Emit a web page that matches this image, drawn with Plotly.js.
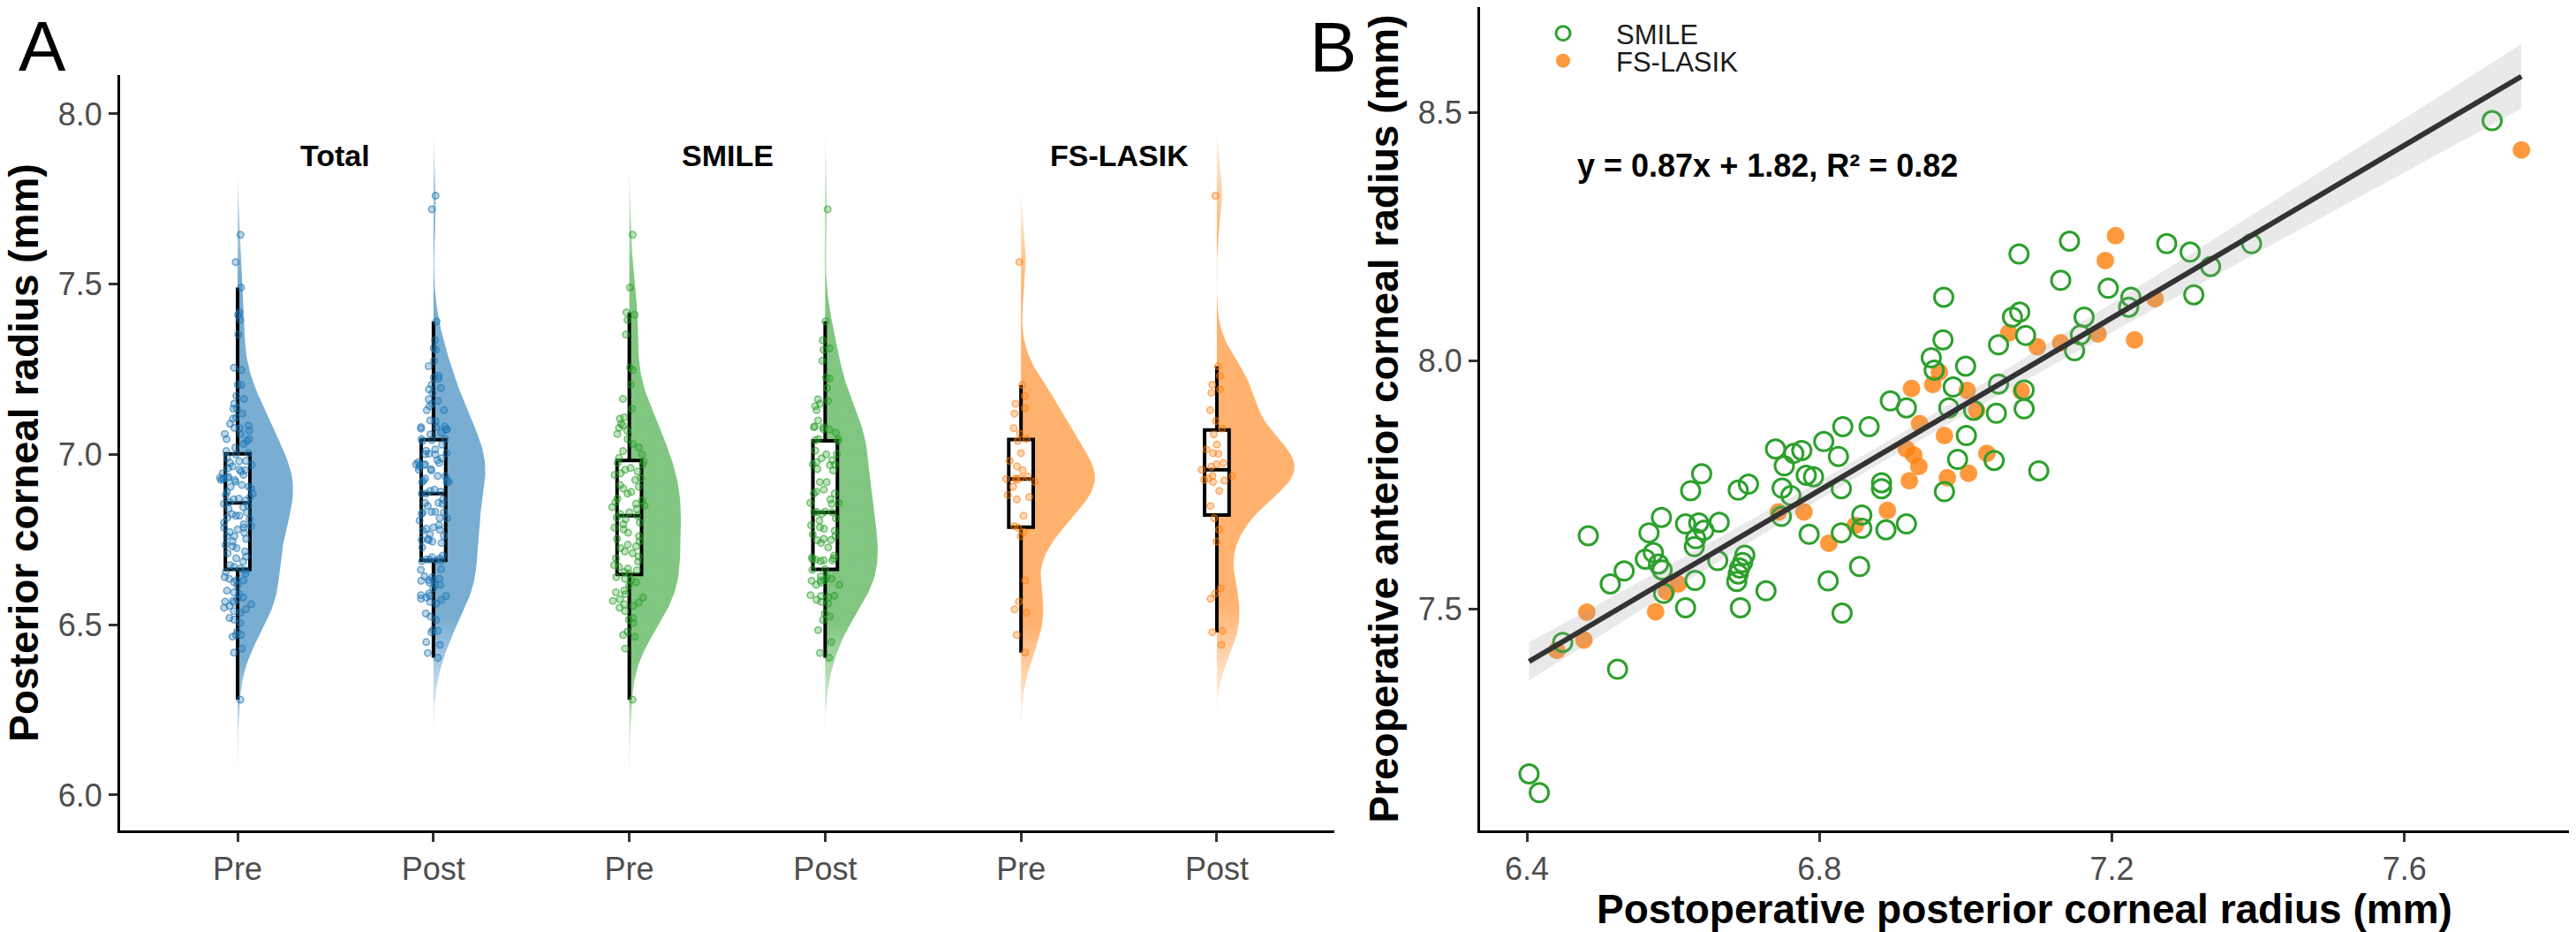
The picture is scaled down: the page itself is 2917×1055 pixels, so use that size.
<!DOCTYPE html>
<html><head><meta charset="utf-8">
<script src="https://cdn.plot.ly/plotly-3.0.1.min.js"></script>
<style>html,body{margin:0;padding:0;background:#fff}#chart{width:2917px;height:1055px}</style>
</head><body><div id="chart"></div>
<script>
// ---------- DATA ----------
const categories = ['Pre', 'Post', 'Pre', 'Post', 'Pre', 'Post'];
const facetLabels = ['Total', 'SMILE', 'FS-LASIK'];
const groupNames = ['SMILE', 'FS-LASIK'];

// Panel A: preoperative posterior corneal radius (mm)
const smilePrePosterior = [
  7.645, 7.49, 7.417, 7.41, 7.395, 7.352, 7.255, 7.248, 7.205, 7.163, 7.134, 7.109,
  7.105, 7.09, 7.085, 7.078, 7.07, 7.06, 7.045, 7.031, 7.02, 7.01, 7.0, 6.99,
  6.98, 6.975, 6.97, 6.96, 6.955, 6.95, 6.945, 6.94, 6.93, 6.925, 6.91, 6.905,
  6.9, 6.89, 6.885, 6.87, 6.865, 6.86, 6.855, 6.85, 6.845, 6.84, 6.83, 6.825,
  6.82,
  6.815, 6.81, 6.80, 6.795, 6.785, 6.78, 6.77, 6.76, 6.752, 6.745, 6.735, 6.73,
  6.725, 6.715, 6.71, 6.70, 6.695, 6.685, 6.675, 6.67, 6.665, 6.66, 6.655, 6.65,
  6.64, 6.635, 6.63, 6.625, 6.615, 6.60, 6.595, 6.59, 6.58, 6.575, 6.57, 6.565,
  6.56, 6.555, 6.55, 6.54, 6.52, 6.515, 6.505, 6.48, 6.47, 6.465, 6.43, 6.28
];
const fsPrePosterior = [
  7.565, 7.204, 7.172, 7.149, 7.136, 7.120, 7.077, 7.060, 7.045, 7.04, 7.004, 6.981,
  6.965, 6.954, 6.935, 6.931, 6.930, 6.928, 6.925, 6.92, 6.905, 6.881, 6.875, 6.868,
  6.82, 6.79, 6.785, 6.772, 6.76, 6.63, 6.568, 6.545, 6.535, 6.47, 6.418
];

// Panel B (and Post in panel A): postoperative posterior radius vs preoperative anterior radius
const smilePostPosterior = [
  7.720, 7.391, 7.335, 7.307, 7.275, 7.312, 7.226, 7.223, 7.142, 7.130, 7.195, 7.157, 7.149, 7.162, 7.100,
  7.073, 7.064, 7.074, 7.082, 7.045, 7.000, 7.045, 7.080, 7.080, 7.042, 7.011, 7.001, 7.039,
  6.970, 6.969, 6.953, 6.957, 6.983, 6.977, 6.897, 6.919, 6.989, 6.971, 6.919, 6.891,
  6.885, 6.885, 6.830, 6.826, 6.832, 6.868, 6.806, 6.858, 6.858, 6.830, 6.855, 6.812, 6.831,
  6.776, 6.782, 6.792, 6.740, 6.765, 6.752, 6.749, 6.761, 6.786, 6.748, 6.727, 6.703, 6.689,
  6.639, 6.624, 6.617, 6.635, 6.642, 6.663, 6.631, 6.629, 6.630, 6.661, 6.687, 6.689, 6.691, 6.695, 6.698, 6.692, 6.617,
  6.584, 6.567, 6.562, 6.573, 6.580, 6.585, 6.587, 6.533, 6.514, 6.484, 6.524, 6.449, 6.403, 6.417
];
const smilePreAnterior = [
  8.484, 8.236, 8.190, 8.219, 8.236, 8.133, 8.128, 8.108, 8.241, 8.162, 8.146, 8.052, 8.020, 8.088, 7.778,
  8.215, 8.088, 8.098, 8.051, 8.032, 7.989, 7.953, 7.941, 7.903, 7.894, 7.900, 7.849, 7.799,
  8.128, 8.042, 8.006, 7.981, 7.947, 7.905, 7.919, 7.905, 7.801, 7.736, 7.671, 7.659,
  7.754, 7.742, 7.742, 7.807, 7.867, 7.867, 7.837, 7.689, 7.662, 7.653, 7.585, 7.556, 7.491,
  7.819, 7.769, 7.766, 7.822, 7.813, 7.788, 7.743, 7.728, 7.650, 7.686, 7.536, 7.751, 7.739,
  7.772, 7.738, 7.671, 7.673, 7.658, 7.674, 7.641, 7.625, 7.557, 7.597, 7.555, 7.570, 7.582, 7.593, 7.608, 7.502, 7.502,
  7.684, 7.653, 7.600, 7.613, 7.590, 7.578, 7.531, 7.576, 7.550, 7.647, 7.378, 7.432, 7.167, 7.129
];
const fsPostPosterior = [
  7.760, 7.205, 7.191, 7.259, 7.231, 7.181, 7.130, 7.098, 7.059, 7.076, 6.964, 6.955,
  7.002, 6.926, 7.015, 6.937, 6.971, 6.919, 6.929, 6.936, 7.029, 6.923, 6.975, 7.004,
  6.893, 6.849, 6.813, 6.779, 6.744, 6.607, 6.591, 6.576, 6.482, 6.478, 6.441
];
const fsPreAnterior = [
  8.425, 8.252, 8.202, 8.125, 8.042, 8.054, 8.036, 8.028, 8.056, 7.939, 7.977, 7.952,
  7.940, 7.944, 7.900, 7.873, 7.849, 7.822, 7.810, 7.787, 7.813, 7.758, 7.764, 7.773,
  7.698, 7.668, 7.632, 7.695, 7.695, 7.550, 7.535, 7.494, 7.493, 7.437, 7.416
];
const equationText = 'y = 0.87x + 1.82, R² = 0.82';

// ---------- DERIVED ----------
const totalPre = smilePrePosterior.concat(fsPrePosterior);
const totalPost = smilePostPosterior.concat(fsPostPosterior);
const groupsA = [totalPre, totalPost, smilePrePosterior, smilePostPosterior, fsPrePosterior, fsPostPosterior];
const rgbA = ['31,119,180', '31,119,180', '44,160,44', '44,160,44', '255,127,14', '255,127,14'];

function quant(sorted, p) {
  const idx = (sorted.length - 1) * p, lo = Math.floor(idx), hi = Math.ceil(idx);
  return sorted[lo] + (sorted[hi] - sorted[lo]) * (idx - lo);
}
function bwNrd0(v) {
  const n = v.length, m = v.reduce((a, b) => a + b, 0) / n;
  const sd = Math.sqrt(v.reduce((a, b) => a + (b - m) * (b - m), 0) / (n - 1));
  const s = [...v].sort((a, b) => a - b);
  const iqr = quant(s, 0.75) - quant(s, 0.25);
  return 0.9 * Math.min(sd, iqr / 1.34) * Math.pow(n, -0.2);
}
function kde(v, nGrid) {
  const bw = bwNrd0(v);
  const mn = Math.min(...v) - 3 * bw, mx = Math.max(...v) + 3 * bw;
  const ys = [], ds = [];
  for (let i = 0; i < nGrid; i++) {
    const y = mn + (mx - mn) * i / (nGrid - 1);
    let d = 0;
    for (const x of v) { const z = (y - x) / bw; d += Math.exp(-0.5 * z * z); }
    ys.push(y); ds.push(d / (v.length * bw * Math.sqrt(2 * Math.PI)));
  }
  return { ys, ds };
}

const FONT = 'Liberation Sans, Arial, Helvetica, sans-serif';
const widthScale = 0.18;
const traces = [];

// half violins (base subplot x / y)
groupsA.forEach((vals, i) => {
  const pos = i + 1, c = rgbA[i];
  const k = kde(vals, 220);
  const xs = k.ds.map(d => pos + widthScale * d);
  const ys = k.ys.slice();
  xs.push(pos, pos); ys.push(k.ys[k.ys.length - 1], k.ys[0]);
  traces.push({
    type: 'scatter', mode: 'lines', x: xs, y: ys, xaxis: 'x', yaxis: 'y',
    fill: 'toself', fillcolor: `rgba(${c},0.6)`, line: { width: 0, color: `rgba(${c},0)` },
    fillgradient: { type: 'vertical', colorscale: [[0, `rgba(${c},0)`], [0.2, `rgba(${c},0.6)`], [0.8, `rgba(${c},0.6)`], [1, `rgba(${c},0)`]] },
    hoverinfo: 'skip', showlegend: false
  });
});
// boxes (overlay y3 so they sit above violins)
groupsA.forEach((vals, i) => {
  traces.push({
    type: 'box', y: vals, x0: i + 1, xaxis: 'x', yaxis: 'y3', width: 0.125,
    fillcolor: '#ffffff', line: { color: '#000000', width: 4 }, whiskerwidth: 0,
    boxpoints: 'outliers', marker: { opacity: 0 }, hoverinfo: 'skip', showlegend: false
  });
});
// jittered raw points
groupsA.forEach((vals, i) => {
  const c = rgbA[i];
  traces.push({
    type: 'box', y: vals, x0: i + 1, xaxis: 'x', yaxis: 'y3', width: 0.18,
    fillcolor: 'rgba(0,0,0,0)', line: { color: 'rgba(0,0,0,0)', width: 0 },
    boxpoints: 'all', jitter: 1, pointpos: 0,
    marker: { size: 7.5, color: `rgba(${c},0.3)`, line: { color: `rgba(${c},0.6)`, width: 1.5 } },
    hoverinfo: 'skip', showlegend: false
  });
});

// Panel B scatter
traces.push({
  type: 'scatter', mode: 'markers', name: groupNames[1], legend: 'legend2',
  x: fsPostPosterior, y: fsPreAnterior, xaxis: 'x2', yaxis: 'y2',
  marker: { symbol: 'circle', size: 20, color: 'rgba(255,127,14,0.8)', line: { width: 0 } }
});
traces.push({
  type: 'scatter', mode: 'markers', name: groupNames[0], legend: 'legend',
  x: smilePostPosterior, y: smilePreAnterior, xaxis: 'x2', yaxis: 'y2',
  marker: { symbol: 'circle-open', size: 21, color: '#2ca02c', line: { width: 3, color: '#2ca02c' } }
});

// regression + 95% CI
const allX = totalPost, allY = smilePreAnterior.concat(fsPreAnterior);
const n = allX.length;
const mx = allX.reduce((a, b) => a + b, 0) / n, my = allY.reduce((a, b) => a + b, 0) / n;
let sxx = 0, sxy = 0;
for (let i = 0; i < n; i++) { sxx += (allX[i] - mx) ** 2; sxy += (allX[i] - mx) * (allY[i] - my); }
const slope = sxy / sxx, icpt = my - slope * mx;
let sse = 0;
for (let i = 0; i < n; i++) sse += (allY[i] - icpt - slope * allX[i]) ** 2;
const sres = Math.sqrt(sse / (n - 2)), tcrit = 1.978;
const xmin = Math.min(...allX), xmax = Math.max(...allX);
const gx = [], gy = [], up = [], lo = [];
for (let i = 0; i < 80; i++) {
  const x = xmin + (xmax - xmin) * i / 79;
  const yh = icpt + slope * x;
  const se = sres * Math.sqrt(1 / n + (x - mx) ** 2 / sxx);
  gx.push(x); gy.push(yh); up.push(yh + tcrit * se); lo.push(yh - tcrit * se);
}
traces.push({
  type: 'scatter', mode: 'lines', x: gx.concat(gx.slice().reverse()), y: up.concat(lo.slice().reverse()),
  xaxis: 'x2', yaxis: 'y2', fill: 'toself', fillcolor: 'rgba(153,153,153,0.22)',
  line: { width: 0, color: 'rgba(0,0,0,0)' }, hoverinfo: 'skip', showlegend: false
});
traces.push({
  type: 'scatter', mode: 'lines', x: gx, y: gy, xaxis: 'x2', yaxis: 'y2',
  line: { color: '#333333', width: 6 }, hoverinfo: 'skip', showlegend: false
});

// ---------- LAYOUT ----------
const W = 2917, H = 1055;
const tickFont = { family: FONT, size: 36, color: '#4d4d4d' };
const titleFont = { family: FONT, size: 46, color: '#000000', weight: 'bold' };
const axisCommon = {
  showline: true, linecolor: '#000000', linewidth: 3, ticks: 'outside', ticklen: 10,
  tickwidth: 3, tickcolor: '#333333', tickfont: tickFont, showgrid: false, zeroline: false
};
const yRangeA = [5.896, 8.114];
const legendCommon = {
  xanchor: 'left', yanchor: 'middle', bgcolor: 'rgba(0,0,0,0)', borderwidth: 0,
  font: { family: FONT, size: 31, color: '#1a1a1a' }, itemwidth: 110
};
const layout = {
  width: W, height: H, margin: { l: 0, r: 0, t: 0, b: 0 },
  paper_bgcolor: '#ffffff', plot_bgcolor: 'rgba(0,0,0,0)',
  font: { family: FONT }, boxmode: 'overlay', showlegend: true,
  xaxis: Object.assign({}, axisCommon, {
    domain: [136 / W, 1511 / W], range: [0.4, 6.6], anchor: 'y',
    tickmode: 'array', tickvals: [1, 2, 3, 4, 5, 6], ticktext: categories
  }),
  yaxis: Object.assign({}, axisCommon, {
    domain: [1 - 940 / H, 1 - 85 / H], range: yRangeA, anchor: 'x',
    tickmode: 'array', tickvals: [6.0, 6.5, 7.0, 7.5, 8.0], tickformat: '.1f',
    title: { text: 'Posterior corneal radius (mm)', font: titleFont, standoff: 8 }
  }),
  yaxis3: { overlaying: 'y', anchor: 'x', range: yRangeA, visible: false, showgrid: false, zeroline: false },
  xaxis2: Object.assign({}, axisCommon, {
    domain: [1676 / W, 2909 / W], range: [6.336, 7.825], anchor: 'y2',
    tickmode: 'array', tickvals: [6.4, 6.8, 7.2, 7.6], tickformat: '.1f',
    title: { text: 'Postoperative posterior corneal radius (mm)', font: titleFont, standoff: 10 }
  }),
  yaxis2: Object.assign({}, axisCommon, {
    domain: [1 - 940 / H, 1 - 8 / H], range: [7.053, 8.713], anchor: 'x2',
    tickmode: 'array', tickvals: [7.5, 8.0, 8.5], tickformat: '.1f',
    title: { text: 'Preoperative anterior corneal radius (mm)', font: titleFont, standoff: 8 }
  }),
  legend: Object.assign({}, legendCommon, { x: 1710 / W, y: 1 - 38 / H }),
  legend2: Object.assign({}, legendCommon, { x: 1710 / W, y: 1 - 69 / H }),
  annotations: [
    { text: 'A', xref: 'paper', yref: 'paper', x: 48 / W, y: 1 - 53 / H, xanchor: 'center', yanchor: 'middle', showarrow: false, font: { family: FONT, size: 80, color: '#000' } },
    { text: 'B', xref: 'paper', yref: 'paper', x: 1509 / W, y: 1 - 54 / H, xanchor: 'center', yanchor: 'middle', showarrow: false, font: { family: FONT, size: 80, color: '#000' } },
    ...facetLabels.map((t, i) => ({
      text: t, xref: 'x', yref: 'y', x: 1.5 + 2 * i, y: 7.878, xanchor: 'center', yanchor: 'middle',
      showarrow: false, font: { family: FONT, size: 34, color: '#000', weight: 'bold' }
    })),
    { text: equationText, xref: 'x2', yref: 'y2', x: 6.467, y: 8.394, xanchor: 'left', yanchor: 'middle', showarrow: false, font: { family: FONT, size: 36, color: '#000', weight: 'bold' } }
  ]
};

Plotly.newPlot('chart', traces, layout, { staticPlot: true, displayModeBar: false });
</script>
</body></html>
